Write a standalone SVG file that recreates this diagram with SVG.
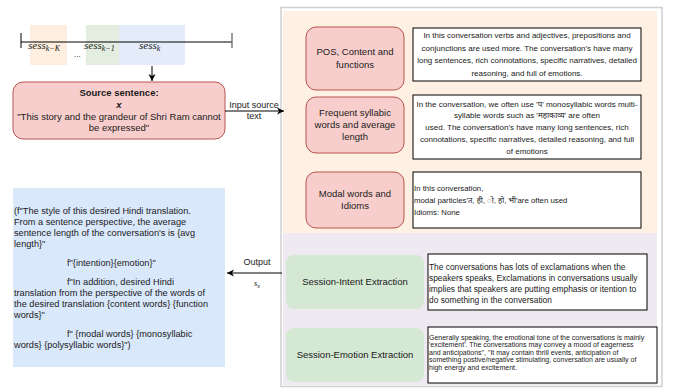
<svg xmlns="http://www.w3.org/2000/svg" width="674" height="390" viewBox="0 0 674 390">
<defs>
<marker id="arr" markerWidth="8" markerHeight="8" refX="7" refY="4" orient="auto" markerUnits="userSpaceOnUse">
<path d="M0,0.5 L7,4 L0,7.5 L2,4 Z" fill="#000"/>
</marker>
<style>
text{font-family:"Liberation Sans",Arial,"Noto Sans",sans-serif;fill:#1a1a1a}
.red{fill:#f8cecc;stroke:#b85450;stroke-width:1}
.green{fill:#d5e8d4;stroke:none}
.wbox{fill:#fff;stroke:#000;stroke-width:1}
.lbl{font-size:9.5px;text-anchor:middle}
.c8{font-size:8px;text-anchor:middle}
.l8{font-size:7.8px}
.l85{font-size:8.4px}
.l7{font-size:7px}
.blue{font-size:9.2px}
.math{font-family:"Liberation Serif","DejaVu Serif",serif;font-style:italic}
.edge{stroke:#000;stroke-width:1;fill:none}
</style>
</defs>
<rect width="674" height="390" fill="#fff"/>

<g id="timeline">
<rect x="30" y="25" width="37" height="40" fill="#fdeedf"/>
<rect x="86" y="25" width="33" height="40" fill="#e3eee0"/>
<rect x="119" y="25" width="66" height="40" fill="#e4ecfa"/>
<line x1="21" y1="42" x2="232" y2="42" stroke="#000" stroke-width="1"/>
<line x1="21" y1="33" x2="21" y2="48" stroke="#000" stroke-width="1"/>
<line x1="232" y1="33" x2="232" y2="48" stroke="#666" stroke-width="1.3"/>
<text class="math" x="28" y="49" font-size="11">sess<tspan font-size="8" dy="2">k−K</tspan></text>
<text class="math" x="84" y="49" font-size="11">sess<tspan font-size="8" dy="2">k−1</tspan></text>
<text class="math" x="139" y="49" font-size="11">sess<tspan font-size="8" dy="2">k</tspan></text>
<text x="74" y="57" font-size="8">...</text>
</g>

<g id="source">
<rect class="red" x="13" y="82" width="212" height="57" rx="10"/>
<text class="lbl" x="119" y="96" font-weight="bold">Source sentence:</text>
<text class="lbl" x="119" y="108" font-weight="bold" font-style="italic">x</text>
<text class="lbl" x="119" y="120">"This story and the grandeur of Shri Ram cannot</text>
<text class="lbl" x="119" y="131">be expressed"</text>
</g>

<g id="panel">
<rect x="281" y="7.5" width="381" height="379" fill="#fff" stroke="#cfcfcf" stroke-width="1.5"/>
<rect x="283" y="11" width="374" height="222" fill="#fef0e3"/>
<rect x="283" y="233" width="374" height="152" fill="#efe9f1"/>
</g>

<g id="pos">
<rect class="red" x="306" y="27" width="98" height="63" rx="10"/>
<text class="lbl" x="355" y="55">POS, Content and</text>
<text class="lbl" x="355" y="68">functions</text>
</g>
<g id="pos-text">
<rect class="wbox" x="413" y="28" width="228" height="53"/>
<text class="c8" x="527" y="38">In this conversation verbs and adjectives, prepositions and</text>
<text class="c8" x="527" y="51">conjunctions are used more. The conversation's have many</text>
<text class="c8" x="527" y="63">long sentences, rich connotations, specific narratives, detailed</text>
<text class="c8" x="527" y="76">reasoning, and full of emotions.</text>
</g>

<g id="syllabic">
<rect class="red" x="306" y="97" width="98" height="56" rx="10"/>
<text class="lbl" x="355" y="116">Frequent syllabic</text>
<text class="lbl" x="355" y="128">words and average</text>
<text class="lbl" x="355" y="140">length</text>
</g>
<g id="syllabic-text">
<rect class="wbox" x="413" y="95" width="228" height="64"/>
<text class="c8" x="527" y="107">In the conversation, we often use 'प' monosyllabic words multi-</text>
<text class="c8" x="527" y="118">syllable words such as 'महाकाव्य' are often</text>
<text class="c8" x="527" y="130">used. The conversation's have many long sentences, rich</text>
<text class="c8" x="527" y="142">connotations, specific narratives, detailed reasoning, and full</text>
<text class="c8" x="527" y="154">of emotions</text>
</g>

<g id="modal">
<rect class="red" x="306" y="172" width="98" height="56" rx="10"/>
<text class="lbl" x="355" y="197">Modal words and</text>
<text class="lbl" x="355" y="209">Idioms</text>
</g>
<g id="modal-text">
<rect class="wbox" x="413" y="172" width="228" height="56"/>
<text class="l8" x="414" y="191">In this conversation,</text>
<text class="l8" x="414" y="203">modal particles'त, ही, ो, हो, भी'are often used</text>
<text class="l8" x="414" y="215">Idioms: None</text>
</g>

<g id="intent">
<rect class="green" x="286" y="255" width="138" height="54" rx="8"/>
<text class="lbl" x="355" y="285">Session-Intent Extraction</text>
</g>
<g id="intent-text">
<rect class="wbox" x="428" y="254" width="219" height="56"/>
<text class="l85" x="429" y="270">The conversations has lots of exclamations when the</text>
<text class="l85" x="429" y="281">speakers speaks, Exclamations in conversations usually</text>
<text class="l85" x="429" y="292">implies that speakers are putting emphasis or itention to</text>
<text class="l85" x="429" y="303">do something in the conversation</text>
</g>

<g id="emotion">
<rect class="green" x="286" y="328" width="138" height="54" rx="8"/>
<text class="lbl" x="355" y="358">Session-Emotion Extraction</text>
</g>
<g id="emotion-text">
<rect class="wbox" x="428" y="327" width="229" height="56"/>
<text class="l7" x="429" y="339.5">Generally speaking, the emotional tone of the conversations is mainly</text>
<text class="l7" x="429" y="347">'excitement'. The conversations may convey a mood of eagerness</text>
<text class="l7" x="429" y="354.5">and anticipations", "It may contain thrill events, anticipation of</text>
<text class="l7" x="429" y="362">something postive/negative stimulating, conversation are usually of</text>
<text class="l7" x="429" y="369.5">high energy and excitement.</text>
</g>

<g id="output">
<rect x="13" y="188" width="212" height="179" fill="#dae8fc"/>
<text class="blue" x="14" y="214">(f"The style of this desired Hindi translation.</text>
<text class="blue" x="14" y="225">From a sentence perspective, the average</text>
<text class="blue" x="14" y="236">sentence length of the conversation's is {avg</text>
<text class="blue" x="14" y="247">length}"</text>
<text class="blue" x="67" y="266">f"{intention}{emotion}"</text>
<text class="blue" x="67" y="285">f"In addition, desired Hindi</text>
<text class="blue" x="14" y="296">translation from the perspective of the words of</text>
<text class="blue" x="14" y="307">the desired translation {content words} {function</text>
<text class="blue" x="14" y="318">words}"</text>
<text class="blue" x="67" y="337">f" {modal words} {monosyllabic</text>
<text class="blue" x="14" y="348">words} {polysyllabic words}")</text>
</g>

<g id="connectors">
<line class="edge" x1="152" y1="66" x2="152" y2="81" marker-end="url(#arr)"/>
<line class="edge" x1="225" y1="111" x2="284" y2="111" marker-end="url(#arr)"/>
<line class="edge" x1="282" y1="273" x2="227" y2="273" marker-end="url(#arr)"/>
<text x="254" y="108" font-size="9" text-anchor="middle">Input source</text>
<text x="254" y="119" font-size="9" text-anchor="middle">text</text>
<text x="257" y="265" font-size="9" text-anchor="middle">Output</text>
<text class="math" x="254" y="286" font-size="8.5">s<tspan font-size="6" dy="1.5">x</tspan></text>
</g>
</svg>
